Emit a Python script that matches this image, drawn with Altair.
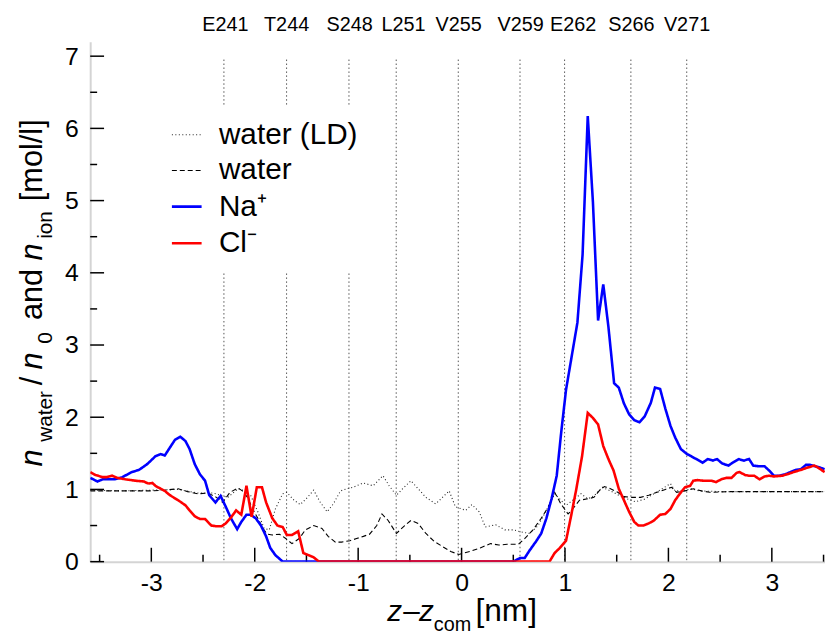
import altair as alt
import pandas as pd

FONT = "Liberation Sans"

# ---------------- data ----------------
series_names = ["water (LD)", "water", "Na\u207a", "Cl\u207b"]

wld_z = [-3.59, -3.3, -3.0, -2.74, -2.55, -2.40, -2.26, -2.16, -2.10, -2.04,
         -1.97, -1.91, -1.86, -1.80, -1.73, -1.69, -1.62, -1.56, -1.49, -1.43,
         -1.37, -1.30, -1.24, -1.17, -1.11, -1.05, -0.95, -0.855, -0.76, -0.70,
         -0.63, -0.57, -0.49, -0.42, -0.345, -0.25, -0.185, -0.12, -0.06, 0.04,
         0.10, 0.17, 0.23, 0.33, 0.42, 0.50, 0.58, 0.66, 0.74, 0.82,
         0.90, 0.96, 1.01, 1.075, 1.155, 1.22, 1.28, 1.36, 1.44, 1.52,
         1.60, 1.68, 1.76, 1.86, 1.94, 2.02, 2.065, 2.145, 2.22, 2.30,
         2.5, 2.8, 3.1, 3.3, 3.51]
wld_n = [0.99, 0.98, 0.99, 1.00, 0.95, 0.95, 0.89, 1.01, 0.98, 0.92,
         0.69, 0.46, 0.44, 0.73, 0.94, 0.96, 0.85, 0.79, 0.89, 0.99,
         0.83, 0.69, 0.80, 0.98, 1.01, 1.03, 1.09, 1.05, 1.19, 1.05,
         0.92, 1.01, 1.12, 1.01, 0.89, 0.80, 0.89, 0.98, 0.76, 0.71,
         0.79, 0.69, 0.48, 0.51, 0.44, 0.44, 0.41, 0.39, 0.50, 0.71,
         0.94, 0.85, 0.78, 0.85, 0.94, 0.87, 0.91, 1.03, 0.98, 0.92,
         0.87, 0.83, 0.86, 0.94, 1.01, 1.08, 0.98, 0.98, 1.01, 0.98,
         0.97, 0.97, 0.97, 0.97, 0.97]

w_z = [-3.59, -3.3, -3.0, -2.87, -2.74, -2.65, -2.55, -2.45, -2.37, -2.31,
       -2.24, -2.16, -2.12, -2.07, -2.02, -1.97, -1.92, -1.88, -1.83, -1.76,
       -1.70, -1.64, -1.57, -1.51, -1.43, -1.35, -1.29, -1.22, -1.16, -1.08,
       -1.015, -0.95, -0.89, -0.82, -0.77, -0.71, -0.63, -0.55, -0.49, -0.42,
       -0.345, -0.265, -0.185, -0.105, -0.026, 0.08, 0.18, 0.28, 0.36, 0.44,
       0.55, 0.61, 0.69, 0.77, 0.84, 0.90, 0.96, 1.03, 1.075, 1.14,
       1.22, 1.28, 1.33, 1.38, 1.44, 1.51, 1.57, 1.65, 1.73, 1.81,
       1.89, 1.97, 2.03, 2.08, 2.16, 2.24, 2.32, 2.40, 2.6, 2.8,
       3.0, 3.2, 3.4, 3.51]
w_n = [0.98, 0.98, 0.98, 0.99, 1.01, 0.97, 0.94, 0.95, 0.89, 0.82,
       0.96, 1.02, 0.98, 0.89, 0.73, 0.60, 0.46, 0.38, 0.37, 0.38,
       0.32, 0.25, 0.32, 0.44, 0.50, 0.46, 0.35, 0.27, 0.27, 0.29,
       0.32, 0.35, 0.38, 0.50, 0.66, 0.57, 0.39, 0.50, 0.57, 0.53,
       0.39, 0.28, 0.21, 0.14, 0.10, 0.14, 0.19, 0.25, 0.23, 0.24,
       0.24, 0.32, 0.44, 0.60, 0.76, 0.96, 0.80, 0.66, 0.73, 0.85,
       0.87, 0.89, 0.98, 1.04, 1.01, 0.96, 0.90, 0.89, 0.89, 0.92,
       0.96, 1.00, 1.03, 0.96, 0.98, 1.01, 0.98, 0.96, 0.97, 0.97,
       0.97, 0.97, 0.97, 0.97]

na_z = [-3.59, -3.52, -3.47, -3.36, -3.28, -3.19, -3.12, -3.04, -2.96, -2.91,
        -2.87, -2.82, -2.77, -2.72, -2.67, -2.63, -2.58, -2.53, -2.48, -2.44,
        -2.38, -2.33, -2.28, -2.23, -2.17, -2.13, -2.08, -2.04, -1.99, -1.94,
        -1.89, -1.85, -1.80, -1.73,
        0.50, 0.565, 0.61, 0.66, 0.72, 0.77, 0.82, 0.87, 0.92, 0.964,
        1.01, 1.075, 1.12, 1.17, 1.22, 1.27, 1.32, 1.37, 1.42, 1.475,
        1.52, 1.57, 1.62, 1.67, 1.72, 1.77, 1.83, 1.87, 1.92, 1.97,
        2.02, 2.065, 2.12, 2.18, 2.22, 2.27, 2.33, 2.38, 2.43, 2.47,
        2.52, 2.58, 2.62, 2.68, 2.73, 2.78, 2.82, 2.88, 2.93, 2.975,
        3.02, 3.07, 3.13, 3.18, 3.23, 3.28, 3.33, 3.37, 3.42, 3.47, 3.51]
na_n = [1.16, 1.11, 1.14, 1.14, 1.17, 1.24, 1.27, 1.35, 1.46, 1.49,
        1.47, 1.58, 1.69, 1.73, 1.67, 1.56, 1.35, 1.21, 1.12, 0.92,
        0.82, 0.91, 0.76, 0.60, 0.45, 0.55, 0.65, 0.65, 0.60, 0.50,
        0.35, 0.19, 0.09, 0.0,
        0.0, 0.05, 0.05, 0.16, 0.28, 0.39, 0.60, 0.87, 1.19, 1.80,
        2.38, 2.93, 3.31, 4.25, 6.17, 4.98, 3.34, 3.84, 3.25, 2.47,
        2.41, 2.19, 2.04, 1.96, 1.93, 2.01, 2.20, 2.41, 2.39, 2.12,
        1.88, 1.72, 1.56, 1.49, 1.46, 1.42, 1.37, 1.42, 1.40, 1.42,
        1.36, 1.33, 1.37, 1.42, 1.40, 1.42, 1.33, 1.32, 1.32, 1.26,
        1.19, 1.19, 1.21, 1.24, 1.27, 1.28, 1.34, 1.34, 1.32, 1.30, 1.28]

cl_z = [-3.59, -3.54, -3.47, -3.43, -3.38, -3.33, -3.25, -3.15, -3.07, -3.03,
        -2.99, -2.96, -2.91, -2.87, -2.82, -2.74, -2.67, -2.63, -2.58, -2.53,
        -2.48, -2.42, -2.37, -2.32, -2.28, -2.23, -2.18, -2.13, -2.08, -2.03,
        -1.98, -1.93, -1.89, -1.83, -1.78, -1.73, -1.69, -1.64, -1.58, -1.53,
        -1.48, -1.43, -1.38,
        0.85, 0.90, 0.95, 1.01, 1.06, 1.11, 1.165, 1.22, 1.27, 1.32,
        1.37, 1.42, 1.47, 1.52, 1.57, 1.62, 1.67, 1.71, 1.76, 1.81,
        1.86, 1.92, 1.97, 2.02, 2.065, 2.11, 2.16, 2.21, 2.24, 2.28,
        2.34, 2.42, 2.46, 2.51, 2.56, 2.61, 2.66, 2.69, 2.74, 2.78,
        2.83, 2.88, 2.93, 2.975, 3.02, 3.10, 3.15, 3.21, 3.28, 3.34,
        3.41, 3.45, 3.51]
cl_n = [1.24, 1.20, 1.17, 1.17, 1.19, 1.16, 1.14, 1.12, 1.11, 1.08,
        1.09, 1.05, 1.01, 0.98, 0.92, 0.85, 0.78, 0.71, 0.63, 0.59,
        0.59, 0.50, 0.49, 0.49, 0.53, 0.61, 0.71, 0.65, 1.05, 0.62,
        1.03, 1.03, 0.82, 0.60, 0.50, 0.48, 0.37, 0.37, 0.42, 0.12,
        0.09, 0.06, 0.0,
        0.0, 0.12, 0.19, 0.29, 0.64, 1.01, 1.46, 2.06, 1.99, 1.90,
        1.60, 1.42, 1.26, 1.01, 0.85, 0.69, 0.55, 0.50, 0.50, 0.53,
        0.57, 0.65, 0.66, 0.73, 0.85, 0.94, 1.03, 1.05, 1.12, 1.13,
        1.12, 1.12, 1.10, 1.14, 1.16, 1.16, 1.23, 1.24, 1.20, 1.19,
        1.19, 1.14, 1.18, 1.19, 1.18, 1.19, 1.21, 1.24, 1.27, 1.30,
        1.33, 1.30, 1.24]

res_labels = ["E241", "T244", "S248", "L251", "V255", "V259", "E262", "S266", "V271"]
res_z = [-2.298, -1.692, -1.089, -0.632, -0.032, 0.565, 0.996, 1.637, 2.177]
res_label_z = [-2.283, -1.692, -1.083, -0.561, -0.029, 0.571, 1.078, 1.642, 2.180]

x_major = [-3, -2, -1, 0, 1, 2, 3]
x_minor = [-3.5, -2.5, -1.5, -0.5, 0.5, 1.5, 2.5, 3.5]
y_major = [0, 1, 2, 3, 4, 5, 6, 7]
y_minor = [0.5, 1.5, 2.5, 3.5, 4.5, 5.5, 6.5]

# ---------------- tables ----------------
frames = []
for name, zs, ns in [(series_names[0], wld_z, wld_n), (series_names[1], w_z, w_n),
                     (series_names[2], na_z, na_n), (series_names[3], cl_z, cl_n)]:
    frames.append(pd.DataFrame({"z": zs, "n": ns, "series": name}))
df = pd.concat(frames, ignore_index=True)

res_df = pd.DataFrame({"z": res_z})
res_lab_df = pd.DataFrame({"z": res_label_z, "label": res_labels})

W, H = 742, 525
xscale = alt.Scale(domain=[-3.591, 3.514], nice=False, zero=False)
yscale = alt.Scale(domain=[0, 7.2], nice=False, zero=False)

xaxis = alt.Axis(values=x_major, labelExpr="'' + datum.value", ticks=False, grid=False,
                 domainColor="#d4d4d4", domainWidth=2, labelFont=FONT, labelFontSize=25,
                 labelColor="black", labelPadding=9, labelFlush=False, labelOverlap=False, title="")
yaxis = alt.Axis(values=y_major, labelExpr="'' + datum.value", ticks=False, grid=False,
                 domainColor="#d4d4d4", domainWidth=2, labelFont=FONT, labelFontSize=25,
                 labelColor="black", labelPadding=12, labelFlush=False, labelOverlap=False, title="")

X = alt.X("z:Q", scale=xscale, axis=xaxis)
Y = alt.Y("n:Q", scale=yscale, axis=yaxis)

legend = alt.Legend(orient="none", legendX=67, legendY=64, fillColor="white", padding=14,
                    labelFont=FONT, labelFontSize=30, labelColor="black", labelLimit=400,
                    symbolType="stroke", symbolSize=900, labelOffset=16, rowPadding=5)

lines = alt.Chart(df).mark_line(clip=True).encode(
    x=X, y=Y,
    color=alt.Color("series:N", title="", sort=series_names,
                    scale=alt.Scale(type="ordinal", domain=series_names,
                                    range=["#222222", "#000000", "#0000ff", "#ff0000"]),
                    legend=legend),
    strokeDash=alt.StrokeDash("series:N", title="", sort=series_names,
                              scale=alt.Scale(type="ordinal", domain=series_names,
                                              range=[[1, 2.5], [5, 3], [1, 0], [1, 0]]),
                              legend=legend),
    strokeWidth=alt.StrokeWidth("series:N", title="", sort=series_names,
                                scale=alt.Scale(type="ordinal", domain=series_names,
                                                range=[1.1, 1.1, 2.6, 2.6]),
                                legend=legend),
)

res_rules = alt.Chart(res_df).mark_rule(color="#555555", strokeDash=[1.5, 2.5], strokeWidth=1).encode(
    x=X, y=alt.value(18), y2=alt.value(H))
res_text = alt.Chart(res_lab_df).mark_text(font=FONT, fontSize=20, color="black", align="center",
                                           baseline="middle").encode(
    x=X, y=alt.value(-17), text="label:N")

xmaj = alt.Chart(pd.DataFrame({"z": x_major})).mark_rule(color="black", strokeWidth=1.5).encode(
    x=X, y=alt.value(H), y2=alt.value(H - 14))
xmin = alt.Chart(pd.DataFrame({"z": x_minor})).mark_rule(color="black", strokeWidth=1.5).encode(
    x=X, y=alt.value(H), y2=alt.value(H - 7))
ymaj = alt.Chart(pd.DataFrame({"n": y_major})).mark_rule(color="black", strokeWidth=1.5).encode(
    y=Y, x=alt.value(0), x2=alt.value(14))
ymin = alt.Chart(pd.DataFrame({"n": y_minor})).mark_rule(color="black", strokeWidth=1.5).encode(
    y=Y, x=alt.value(0), x2=alt.value(7))


def txt(s, x, y, size, angle=0, italic=False):
    return alt.Chart(pd.DataFrame({"t": [s]})).mark_text(
        font=FONT, fontSize=size, fontStyle="italic" if italic else "normal", color="black",
        align="left", baseline="alphabetic", angle=angle).encode(
        x=alt.value(x), y=alt.value(y), text="t:N")


# y-axis title pieces (rotated)
yt_main_x, yt_sub_x = -49, -39
ytitle = [
    txt("n", yt_main_x, 429, 31, 270, True),
    txt("water", yt_sub_x, 404, 21, 270),
    txt("/", yt_main_x, 347, 31, 270),
    txt("n", yt_main_x, 331, 31, 270, True),
    txt("0", yt_sub_x, 305, 21, 270),
    txt("and", yt_main_x, 281, 31, 270),
    txt("n", yt_main_x, 221, 31, 270, True),
    txt("ion", yt_sub_x, 199, 21, 270),
    txt("[mol/l]", yt_main_x, 161, 31, 270),
]
# x-axis title pieces
xt_y, xt_sub_y = 585, 595
xtitle = [
    txt("z", 300, xt_y, 30, 0, True),
    txt("\u2013", 316, xt_y, 30),
    txt("z", 332, xt_y, 30, 0, True),
    txt("com", 347, xt_sub_y, 20),
    txt("[nm]", 389, xt_y, 32),
]

chart = alt.layer(
    res_rules, res_text, xmaj, xmin, ymaj, ymin, lines, *ytitle, *xtitle
).properties(
    width=W, height=H,
    padding={"left": 83, "top": 31, "right": 0, "bottom": 70},
    autosize=alt.AutoSizeParams(type="none"),
).configure_view(stroke="transparent")

chart.save("out.html", embed_options={"renderer": "svg", "actions": False})
